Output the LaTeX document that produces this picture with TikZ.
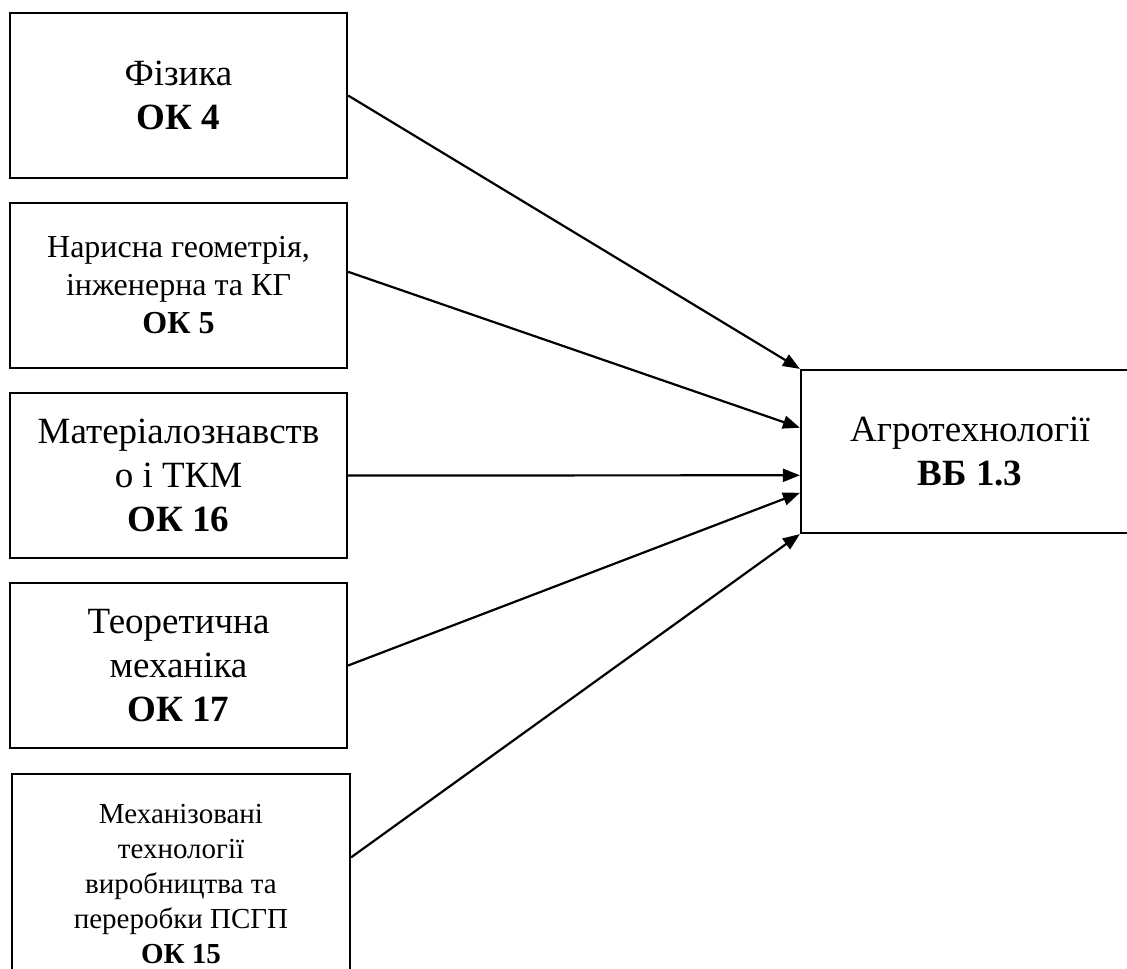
\documentclass[tikz,border=0pt]{standalone}
\usepackage{fontspec}
\setmainfont{Liberation Serif}
\usetikzlibrary{arrows.meta,calc}

\begin{document}
\begin{tikzpicture}[x=1pt,y=1pt,yscale=-1,
    box/.style={draw, line width=2.2pt, minimum width=337pt, minimum height=165pt, inner sep=0pt, align=center},
    big/.style={font=\fontsize{37}{44}\selectfont},
    link/.style={line width=2.2pt, -{Triangle[length=17pt,width=13pt]}}]
    \useasboundingbox (0,0) rectangle (1127,969);
    \clip (0,0) rectangle (1127,969);
    %Shape: Rectangle [fiz]
    \node[box, big] (fiz) at (178.5,95.5) {Фізика\\\textbf{ОК 4}};
    %Shape: Rectangle [geom]
    \node[box, font=\fontsize{32}{38}\selectfont] (geom) at (178.5,285.5) {Нарисна геометрія,\\інженерна та КГ\\\textbf{ОК 5}};
    %Shape: Rectangle [mat]
    \node[box, big] (mat) at (178.5,475.5) {Матеріалознавств\\о і ТКМ\\\textbf{ОК 16}};
    %Shape: Rectangle [mech]
    \node[box, big] (mech) at (178.5,665.5) {Теоретична\\механіка\\\textbf{ОК 17}};
    %Shape: Rectangle [tech]
    \node[box, minimum width=338pt, minimum height=220pt, font=\fontsize{29}{35}\selectfont] (tech) at (181,884) {Механізовані\\технології\\виробництва та\\переробки ПСГП\\\textbf{ОК 15}};
    %Shape: Rectangle [agro]
    \node[box, big, minimum width=338pt, minimum height=163pt] (agro) at (970,451.5) {Агротехнології\\\textbf{ВБ 1.3}};

    %Straight Lines
    \draw[link] (fiz.east) -- (agro.north west);
    \draw[link] ($(geom.north east)!0.418!(geom.south east)$) -- ($(agro.north west)!0.356!(agro.south west)$);
    \draw[link] (mat.east) -- ($(agro.north west)!0.644!(agro.south west)$);
    \draw[link] (mech.east) -- ($(agro.north west)!0.75!(agro.south west)$);
    \draw[link] ($(tech.north east)!0.38!(tech.south east)$) -- (agro.south west);
\end{tikzpicture}
\end{document}
